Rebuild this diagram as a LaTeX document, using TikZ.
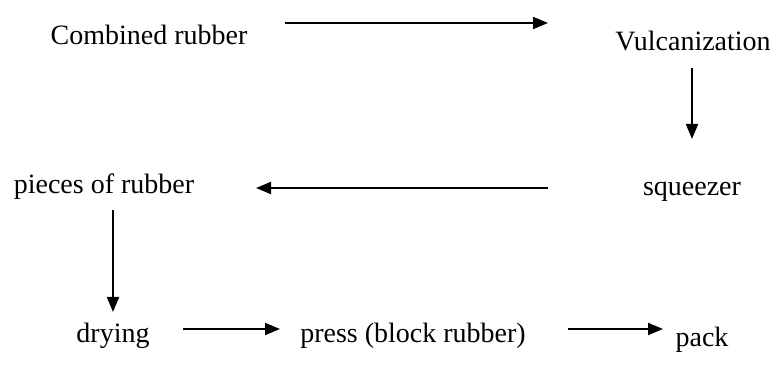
\documentclass[tikz,border=0pt]{standalone}
\usepackage{fontspec}
\setmainfont{Liberation Serif}
\usetikzlibrary{arrows.meta}
\tikzset{
  lbl/.style={anchor=base, inner sep=0pt, font=\fontsize{14pt}{17pt}\selectfont},
  flow/.style={line width=1pt, -{Triangle[length=7.5pt,width=6pt]}}
}
\begin{document}
\begin{tikzpicture}[x=0.5pt,y=-0.5pt]
\useasboundingbox (0,0) rectangle (779,378);
% labels
\node[lbl] (cr) at (149,45) {Combined rubber};
\node[lbl] (vu) at (693,51) {Vulcanization};
\node[lbl] (sq) at (692,196) {squeezer};
\node[lbl] (pr) at (104,194) {pieces of rubber};
\node[lbl] (dr) at (113,343) {drying};
\node[lbl] (pb) at (413,343) {press (block rubber)};
\node[lbl] (pk) at (702,346) {pack};
% connector end points
\coordinate (c1a) at (285,23);  \coordinate (c1b) at (548,23);
\coordinate (c2a) at (692,68);  \coordinate (c2b) at (692,139);
\coordinate (c3a) at (548,188); \coordinate (c3b) at (256,188);
\coordinate (c4a) at (113,210); \coordinate (c4b) at (113,312);
\coordinate (c5a) at (183,329); \coordinate (c5b) at (280,329);
\coordinate (c6a) at (568,329); \coordinate (c6b) at (663,329);
% connectors
\draw[flow] (c1a) -- (c1b);
\draw[flow] (c2a) -- (c2b);
\draw[flow] (c3a) -- (c3b);
\draw[flow] (c4a) -- (c4b);
\draw[flow] (c5a) -- (c5b);
\draw[flow] (c6a) -- (c6b);
\end{tikzpicture}
\end{document}
